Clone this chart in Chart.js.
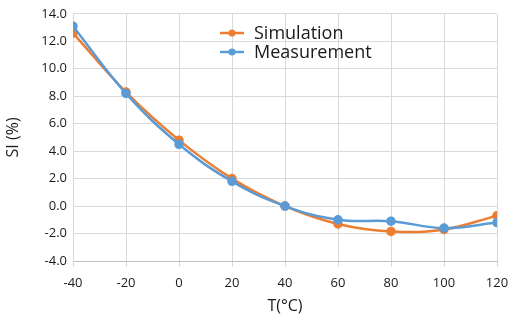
<!DOCTYPE html>
<html lang="en">
<head>
  <meta charset="UTF-8">
  <title>SI vs T</title>
  <script src="https://cdn.jsdelivr.net/npm/chart.js"></script>
  <style>
    html, body { margin: 0; padding: 0; background: #fff; }
    #wrap { width: 512px; height: 320px; }
  </style>
</head>
<body>
  <div id="wrap"><canvas id="siChart" width="512" height="320"></canvas></div>
  <script>
    // data
    const temperatures = [-40, -20, 0, 20, 40, 60, 80, 100, 120];
    const simulation = [12.6, 8.3, 4.8, 2.0, 0.0, -1.3, -1.85, -1.7, -0.7];
    const measurement = [13.1, 8.2, 4.5, 1.8, 0.0, -1.0, -1.1, -1.6, -1.2];
    const seriesNames = ['Simulation', 'Measurement'];
    const seriesColors = ['#ED7D31', '#5B9BD5'];

    const FONT = '"Open Sans", "DejaVu Sans", sans-serif';

    // legend drawn inside the plot, Excel style
    const insideLegend = {
      id: 'insideLegend',
      afterDraw(chart) {
        const ctx = chart.ctx;
        const x0 = 220, y0 = 33, gap = 19;
        seriesNames.forEach((name, i) => {
          const y = y0 + i * gap;
          ctx.save();
          ctx.strokeStyle = seriesColors[i];
          ctx.lineWidth = 2.5;
          ctx.beginPath();
          ctx.moveTo(x0, y);
          ctx.lineTo(x0 + 24, y);
          ctx.stroke();
          ctx.fillStyle = seriesColors[i];
          ctx.beginPath();
          ctx.arc(x0 + 12, y, 3.5, 0, Math.PI * 2);
          ctx.fill();
          ctx.fillStyle = '#1a1a1a';
          ctx.font = '18px ' + FONT;
          ctx.textBaseline = 'middle';
          ctx.fillText(name, x0 + 34, y + 1);
          ctx.restore();
        });
      }
    };

    const ctx = document.getElementById('siChart').getContext('2d');
    const allSeries = [simulation, measurement];
    new Chart(ctx, {
      type: 'line',
      data: {
        datasets: seriesNames.map((name, i) => ({
          label: name,
          data: temperatures.map((t, j) => ({ x: t, y: allSeries[i][j] })),
          borderColor: seriesColors[i],
          backgroundColor: seriesColors[i],
          borderWidth: 2.5,
          pointRadius: 3.5,
          pointHoverRadius: 3.5,
          tension: 0.4,
          order: i === 1 ? 0 : 1, // measurement on top
          fill: false
        }))
      },
      options: {
        responsive: false,
        animation: false,
        layout: { padding: { top: 7, right: 15, left: 0, bottom: 0 } },
        plugins: {
          legend: { display: false },
          tooltip: { enabled: false }
        },
        scales: {
          x: {
            type: 'linear',
            min: -40,
            max: 120,
            ticks: { stepSize: 20, color: '#1a1a1a', font: { family: FONT, size: 13 }, padding: 8 },
            grid: { color: '#d9d9d9', tickLength: 6, drawTicks: true },
            border: { color: '#bfbfbf' },
            title: { display: true, text: 'T(°C)', color: '#1a1a1a', font: { family: FONT, size: 16 }, padding: { top: 0 } },
            afterFit(s) { s.height = 59; s.paddingRight = 0; s.paddingLeft = 0; }
          },
          y: {
            min: -4,
            max: 14,
            ticks: {
              stepSize: 2,
              color: '#1a1a1a',
              font: { family: FONT, size: 13 },
              padding: 6,
              callback: v => v.toFixed(1)
            },
            grid: { color: '#d9d9d9', drawTicks: false },
            border: { color: '#d9d9d9' },
            title: { display: true, text: 'SI (%)', color: '#1a1a1a', font: { family: FONT, size: 16 }, padding: { bottom: 0 } },
            afterFit(s) { s.width = 73; }
          }
        }
      },
      plugins: [insideLegend]
    });
  </script>
</body>
</html>
